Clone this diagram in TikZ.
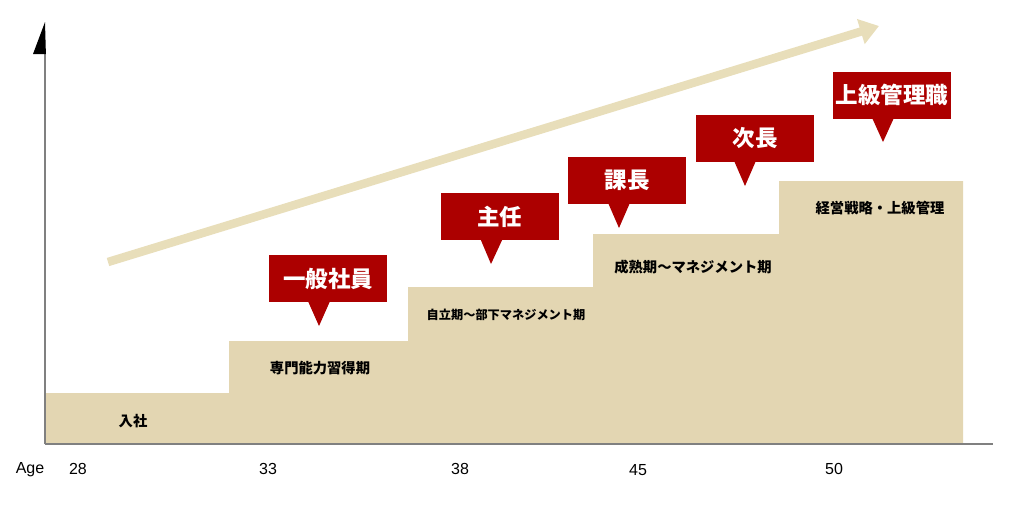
\documentclass[tikz,border=0pt]{standalone}
\usepackage{fontspec}
\setmainfont{Noto Sans CJK JP}
\newfontfamily\agefont{Liberation Sans}
\usetikzlibrary{arrows.meta,calc}
\definecolor{tan}{RGB}{227,214,178}
\definecolor{arrowtan}{RGB}{232,222,186}
\definecolor{callred}{RGB}{172,0,0}
\definecolor{axisgray}{RGB}{128,128,128}
\tikzset{
  callbox/.style={fill=callred, minimum width=118pt, minimum height=47pt, inner sep=0pt,
    text=white, font=\bfseries\fontsize{22.5}{24}\selectfont},
  pointer/.style={fill=callred},
  steplabel/.style={inner sep=0pt, text=black, font=\bfseries\fontsize{14.3}{16}\selectfont},
  agelabel/.style={inner sep=0pt, text=black, font=\agefont\fontsize{16}{18}\selectfont},
}
\begin{document}
\begin{tikzpicture}[x=1pt,y=-1pt]
\useasboundingbox (0,0) rectangle (1024,512);
% steps
\fill[tan] (45,444) -- (45,393) -- (229,393) -- (229,341) -- (408,341) -- (408,287)
  -- (593,287) -- (593,234) -- (779,234) -- (779,181) -- (963,181) -- (963,444) -- cycle;
% axes
\coordinate (origin) at (45,444);
\coordinate (ytop) at (45,22);
\coordinate (xend) at (993,444);
\draw[axisgray, line width=1.8pt] (origin) -- (45,50);
\draw[axisgray, line width=1.8pt] (origin) -- (xend);
\fill[black] (ytop) -- (33,54) -- (45.9,54) -- cycle;
% big arrow
\coordinate (atail) at (108,262);
\coordinate (ahead) at (879,26);
\draw[arrowtan, line width=8.5pt, -{Triangle[length=19pt,width=25pt]}] (atail) -- (ahead);
% step labels
\node[steplabel] (s1) at (133,421) {入社};
\node[steplabel] (s2) at (320,368) {専門能力習得期};
\node[steplabel, font=\bfseries\fontsize{12.2}{14}\selectfont] (s3) at (506,315) {自立期〜部下マネジメント期};
\node[steplabel] (s4) at (693,267) {成熟期〜マネジメント期};
\node[steplabel] (s5) at (880,208) {経営戦略・上級管理};
% callouts
\node[callbox] (c1) at (328,278.5) {一般社員};
\coordinate (t1) at (319,326);
\fill[pointer] ($(c1.south)+(-20,-1)$) -- ($(c1.south)+(2,-1)$) -- (t1) -- cycle;
\node[callbox] (c2) at (499.5,216.5) {主任};
\coordinate (t2) at (491,264);
\fill[pointer] ($(c2.south)+(-19,-1)$) -- ($(c2.south)+(3,-1)$) -- (t2) -- cycle;
\node[callbox] (c3) at (627,180) {課長};
\coordinate (t3) at (619,228);
\fill[pointer] ($(c3.south)+(-19,-1)$) -- ($(c3.south)+(3,-1)$) -- (t3) -- cycle;
\node[callbox] (c4) at (755,138) {次長};
\coordinate (t4) at (745,186);
\fill[pointer] ($(c4.south)+(-21,-1)$) -- ($(c4.south)+(1,-1)$) -- (t4) -- cycle;
\node[callbox] (c5) at (892,95) {上級管理職};
\coordinate (t5) at (883,142);
\fill[pointer] ($(c5.south)+(-20,-1)$) -- ($(c5.south)+(2,-1)$) -- (t5) -- cycle;
% ages
\node[agelabel] (age) at (30,470) {Age};
\node[agelabel] (a28) at (78,469) {28};
\node[agelabel] (a33) at (268,469) {33};
\node[agelabel] (a38) at (460,469) {38};
\node[agelabel] (a45) at (638,470) {45};
\node[agelabel] (a50) at (834,469) {50};
\end{tikzpicture}
\end{document}
